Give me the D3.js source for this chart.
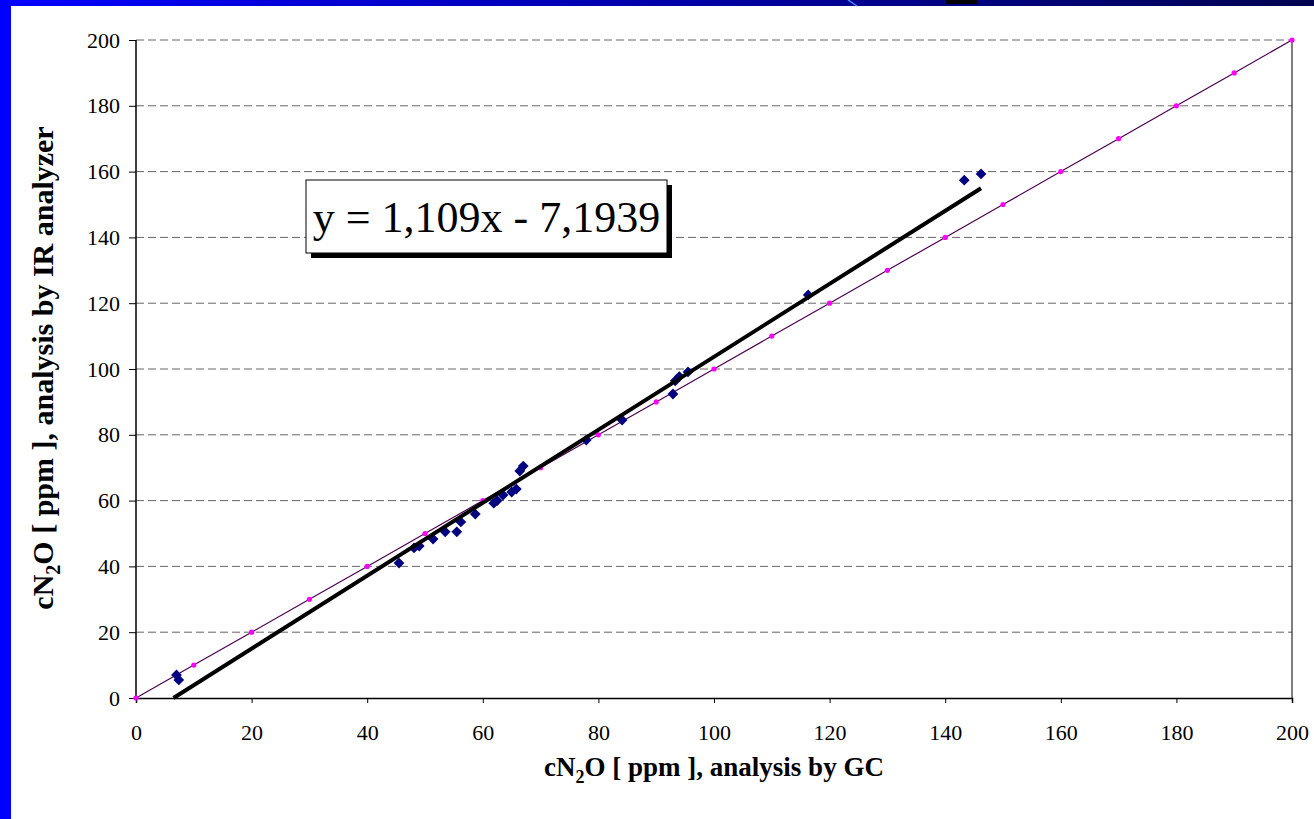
<!DOCTYPE html>
<html>
<head>
<meta charset="utf-8">
<script src="https://cdn.jsdelivr.net/npm/d3@7"></script>
<style>
  body { margin: 0; background: #fff; }
  svg { display: block; }
  text { font-family: "Liberation Serif", "Times New Roman", serif; }
</style>
</head>
<body>
<div id="chart"></div>
<script>
// measured points, GC vs IR analyzer (ppm)
const gcValues = [7, 7.4, 45.5, 48.1, 49, 51.4, 53.5, 55.5, 56.2, 58.7, 61.9, 62.5, 63.5, 65, 65.8, 66.4, 67,
  77.9, 84.1, 92.9, 93.3, 94, 95.5, 116.3, 143.3, 146.2];
const irValues = [7, 5.5, 41, 45.6, 46.2, 48.3, 50.5, 50.5, 53.5, 55.9, 59.2, 60, 61.7, 62.6, 63.5, 69, 70.5,
  78.4, 84.5, 92.4, 96.4, 97.7, 99.1, 122.5, 157.4, 159.3];
// reference line y = x
const refValues = [0, 10, 20, 30, 40, 50, 60, 70, 80, 90, 100, 110, 120, 130, 140, 150, 160, 170, 180, 190, 200];
const tickValues = [0, 20, 40, 60, 80, 100, 120, 140, 160, 180, 200];
const slope = 1.109, intercept = -7.1939;
const equationLabel = "y = 1,109x - 7,1939";

const W = 1314, H = 819;
const margin = { top: 40, right: 22, bottom: 121, left: 136 };
const width = W - margin.left - margin.right,
  height = H - margin.top - margin.bottom;
const serif = '"Liberation Serif", "Times New Roman", serif';

const svg = d3.select('#chart').append('svg')
  .attr('width', W).attr('height', H);

// slide frame: blue gradient band on top, blue bar on the left
const defs = svg.append('defs');
const grad = defs.append('linearGradient').attr('id', 'band');
grad.append('stop').attr('offset', '0%').attr('stop-color', '#0000ff');
grad.append('stop').attr('offset', '60%').attr('stop-color', '#000099');
grad.append('stop').attr('offset', '100%').attr('stop-color', '#000050');
svg.append('rect').attr('x', 0).attr('y', 0).attr('width', W).attr('height', 6).attr('fill', 'url(#band)');
svg.append('rect').attr('x', 0).attr('y', 0).attr('width', 11).attr('height', H).attr('fill', '#0000ff');
svg.append('line').attr('x1', 848).attr('y1', 0).attr('x2', 857).attr('y2', 6)
  .attr('stroke', '#4a8cff').attr('stroke-width', 1.5);
svg.append('rect').attr('x', 946).attr('y', 0).attr('width', 31).attr('height', 4).attr('fill', '#000');

const g = svg.append('g').attr('transform', `translate(${margin.left},${margin.top})`);

const x = d3.scaleLinear().domain([0, 200]).range([0, width]);
const y = d3.scaleLinear().domain([0, 200]).range([height, 0]);

// dashed gridlines
g.append('g').selectAll('line').data(tickValues.filter(d => d > 0)).join('line')
  .attr('x1', 0).attr('x2', width)
  .attr('y1', d => y(d)).attr('y2', d => y(d))
  .attr('stroke', '#666').attr('stroke-width', 1).attr('stroke-dasharray', '8,4');

// right border
g.append('line').attr('x1', width).attr('x2', width).attr('y1', 0).attr('y2', height)
  .attr('stroke', '#000').attr('stroke-width', 1);

const xAxis = d3.axisBottom(x).tickValues(tickValues).tickSize(5).tickPadding(21);
const yAxis = d3.axisLeft(y).tickValues(tickValues).tickSize(7).tickPadding(9);

const gx = g.append('g').attr('transform', `translate(0,${height})`).call(xAxis);
const gy = g.append('g').call(yAxis);
[gx, gy].forEach(a => {
  a.attr('font-family', serif).attr('font-size', 22);
  a.select('.domain').attr('stroke', '#000').attr('stroke-width', 1.5);
  a.selectAll('.tick line').attr('stroke', '#000');
  a.selectAll('.tick text').style('font-family', serif).style('font-size', '22px').attr('fill', '#000');
});
gy.select('.domain').attr('d', `M0,${height}V0`);

// reference y = x line with magenta dots
const line = d3.line().x(d => x(d)).y(d => y(d));
g.append('path').attr('d', line(refValues))
  .attr('fill', 'none').attr('stroke', '#4b0050').attr('stroke-width', 1.2);
g.append('g').selectAll('circle').data(refValues).join('circle')
  .attr('cx', d => x(d)).attr('cy', d => y(d)).attr('r', 2.6)
  .attr('fill', '#ff00ff');

// measured diamonds (rotated squares)
const points = gcValues.map((v, i) => ({ gc: v, ir: irValues[i] }));
g.append('g').selectAll('path').data(points).join('path')
  .attr('transform', d => `translate(${x(d.gc)},${y(d.ir)}) rotate(45)`)
  .attr('d', d3.symbol().type(d3.symbolSquare).size(58))
  .attr('fill', '#000080');

// linear trend line
const x0 = -intercept / slope, x1 = d3.max(gcValues);
g.append('path')
  .attr('d', d3.line()([[x(x0), y(0)], [x(x1), y(slope * x1 + intercept)]]))
  .attr('stroke', '#000').attr('stroke-width', 4).attr('fill', 'none');

// equation label box with shadow
const box = { x: 306, y: 180, w: 361, h: 73 };
svg.append('rect').attr('x', box.x + 5).attr('y', box.y + 5).attr('width', box.w).attr('height', box.h).attr('fill', '#000');
svg.append('rect').attr('x', box.x).attr('y', box.y).attr('width', box.w).attr('height', box.h)
  .attr('fill', '#fff').attr('stroke', '#000').attr('stroke-width', 1);
svg.append('text').attr('x', box.x + box.w / 2).attr('y', box.y + 52)
  .attr('text-anchor', 'middle')
  .style('font-family', serif).style('font-size', '44px')
  .text(equationLabel);

// axis titles
const xTitle = svg.append('text').attr('x', 714).attr('y', 776)
  .attr('text-anchor', 'middle')
  .style('font-family', serif).style('font-size', '27px').attr('font-weight', 'bold');
xTitle.append('tspan').text('cN');
xTitle.append('tspan').style('font-size', '18px').attr('dy', 7).text('2');
xTitle.append('tspan').attr('dy', -7).text('O [ ppm ], analysis by GC');

const yTitle = svg.append('text')
  .attr('transform', `translate(53,368) rotate(-90)`)
  .attr('text-anchor', 'middle')
  .style('font-family', serif).style('font-size', '30px').attr('font-weight', 'bold');
yTitle.append('tspan').text('cN');
yTitle.append('tspan').style('font-size', '20px').attr('dy', 7).text('2');
yTitle.append('tspan').attr('dy', -7).text('O [ ppm ], analysis by IR analyzer');
</script>
</body>
</html>
